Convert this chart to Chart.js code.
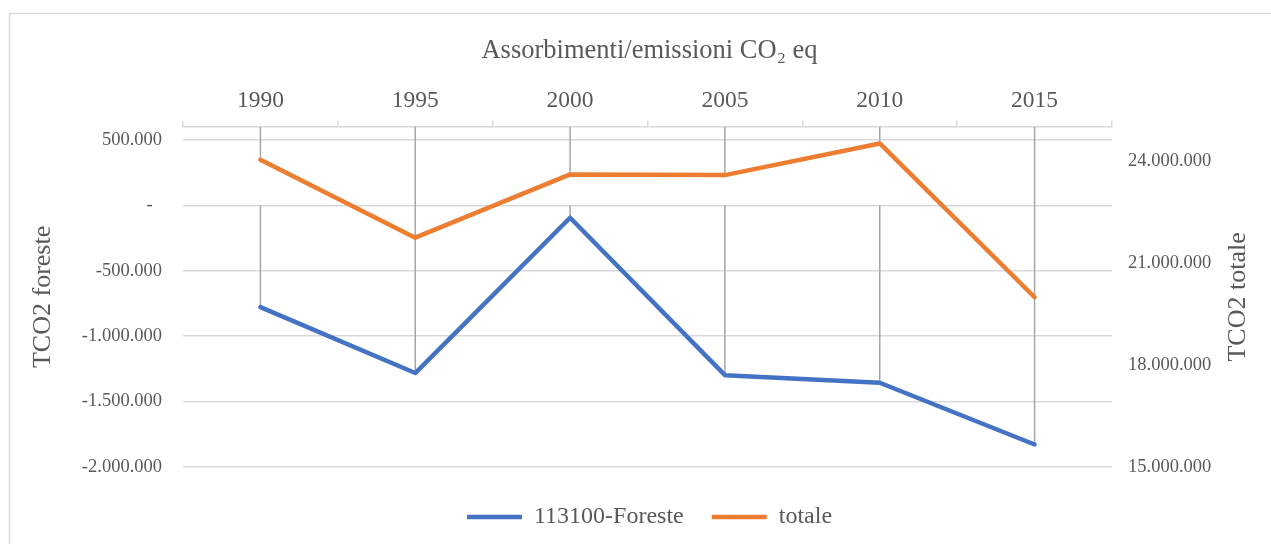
<!DOCTYPE html>
<html>
<head>
<meta charset="utf-8">
<script src="https://cdn.jsdelivr.net/npm/chart.js@4/dist/chart.umd.min.js"></script>
<style>
  html, body { margin: 0; padding: 0; background: #fff; }
  #wrap { width: 1271px; height: 544px; }
</style>
</head>
<body>
<div id="wrap"><canvas id="line-chart" width="1271" height="544"></canvas></div>
<script>
// data
var years = ['1990', '1995', '2000', '2005', '2010', '2015'];
var foreste = [-778000, -1282000, -95000, -1298000, -1356000, -1828000];
var totale = [24030000, 21740000, 23600000, 23580000, 24510000, 19990000];

var leftTicks = [-2000000, -1500000, -1000000, -500000, 0, 500000];
var rightTicks = [15000000, 18000000, 21000000, 24000000];

var txt = '#595959';
var serif = "'Liberation Serif', 'Times New Roman', serif";

function fmt(v) {
	if (v === 0) return '-  ';
	var s = String(Math.abs(v)).replace(/\B(?=(\d{3})+(?!\d))/g, '.');
	return (v < 0 ? '-' : '') + s;
}

// frame of the chart box
var frame = {
	id: 'frame',
	beforeDraw: function (chart) {
		var ctx = chart.ctx;
		ctx.save();
		ctx.strokeStyle = '#d9d9d9';
		ctx.lineWidth = 1.5;
		ctx.strokeRect(9.5, 13.5, 1300, 600);
		ctx.restore();
	}
};

// excel style drop lines: orange from the top axis, blue from zero
var dropLines = {
	id: 'dropLines',
	beforeDatasetsDraw: function (chart) {
		var ctx = chart.ctx;
		var area = chart.chartArea;
		var y0 = chart.scales.y.getPixelForValue(0);
		var mb = chart.getDatasetMeta(0).data;
		var mo = chart.getDatasetMeta(1).data;
		ctx.save();
		ctx.strokeStyle = '#a6a6a6';
		ctx.lineWidth = 1.5;
		ctx.beginPath();
		for (var i = 0; i < years.length; i++) {
			ctx.moveTo(mo[i].x, area.top);
			ctx.lineTo(mo[i].x, mo[i].y);
			ctx.moveTo(mb[i].x, y0);
			ctx.lineTo(mb[i].x, mb[i].y);
		}
		ctx.stroke();
		ctx.restore();
	}
};

// right axis title reads bottom to top, like excel
var rightTitle = {
	id: 'rightTitle',
	afterDraw: function (chart) {
		var ctx = chart.ctx;
		var area = chart.chartArea;
		var s = chart.scales.y1;
		ctx.save();
		ctx.translate(s.right - 33, (area.top + area.bottom) / 2);
		ctx.rotate(-Math.PI / 2);
		ctx.fillStyle = txt;
		ctx.font = '26px ' + serif;
		ctx.textAlign = 'center';
		ctx.textBaseline = 'middle';
		ctx.fillText('TCO2 totale', 0, 0);
		ctx.restore();
	}
};

function myChart() {
	var line = document.getElementById('line-chart');
	new Chart(line, {
		type: 'line',
		data: {
			labels: years,
			datasets: [{
				label: '113100-Foreste',
				data: foreste,
				yAxisID: 'y',
				borderColor: '#4472C4',
				backgroundColor: '#4472C4',
				borderWidth: 4.5,
				borderCapStyle: 'round',
				borderJoinStyle: 'round',
				pointRadius: 0,
				fill: false
			}, {
				label: 'totale',
				data: totale,
				yAxisID: 'y1',
				borderColor: '#ED7D31',
				backgroundColor: '#ED7D31',
				borderWidth: 4.5,
				borderCapStyle: 'round',
				borderJoinStyle: 'round',
				pointRadius: 0,
				fill: false
			}]
		},
		options: {
			responsive: false,
			animation: false,
			layout: { padding: { top: 0, left: 28, right: 0, bottom: 5 } },
			scales: {
				x: {
					position: 'top',
					offset: true,
					afterFit: function (s) { s.height = 60; },
					grid: { offset: true, drawOnChartArea: false, tickLength: 6, color: '#d9d9d9', lineWidth: 1.5 },
					border: { color: '#d9d9d9', width: 1.5 },
					ticks: { color: txt, padding: 6, font: { family: serif, size: 23.5 } }
				},
				y: {
					position: 'left',
					min: -2000000,
					max: 600000,
					afterFit: function (s) { s.width = 155; },
					afterBuildTicks: function (s) { s.ticks = leftTicks.map(function (v) { return { value: v }; }); },
					grid: { color: '#d9d9d9', lineWidth: 1.5, drawTicks: false },
					border: { display: false },
					ticks: { color: txt, padding: 21, font: { family: serif, size: 18.5 }, callback: function (v) { return fmt(v); } },
					title: { display: true, text: 'TCO2 foreste', color: txt, padding: { top: 0, bottom: 0 }, font: { family: serif, size: 26 } }
				},
				y1: {
					position: 'right',
					min: 15000000,
					max: 25000000,
					afterFit: function (s) { s.width = 159; },
					afterBuildTicks: function (s) { s.ticks = rightTicks.map(function (v) { return { value: v }; }); },
					grid: { display: false, drawOnChartArea: false },
					border: { display: false },
					ticks: { color: txt, padding: 8, font: { family: serif, size: 18.5 }, callback: function (v) { return fmt(v); } }
				}
			},
			plugins: {
				title: {
					display: true,
					text: 'Assorbimenti/emissioni CO\u2082 eq',
					color: txt,
					padding: { top: 35, bottom: 0 },
					font: { family: serif, size: 26.5, weight: 'normal' }
				},
				legend: {
					position: 'bottom',
					title: { display: true, text: '', padding: 0, font: { size: 10, lineHeight: 1 } },
					labels: {
						usePointStyle: true,
						pointStyle: 'line',
						pointStyleWidth: 55,
						padding: 28,
						color: txt,
						font: { family: serif, size: 24 }
					}
				},
				tooltip: { enabled: false }
			}
		},
		plugins: [frame, dropLines, rightTitle]
	});
}
myChart();
</script>
</body>
</html>
